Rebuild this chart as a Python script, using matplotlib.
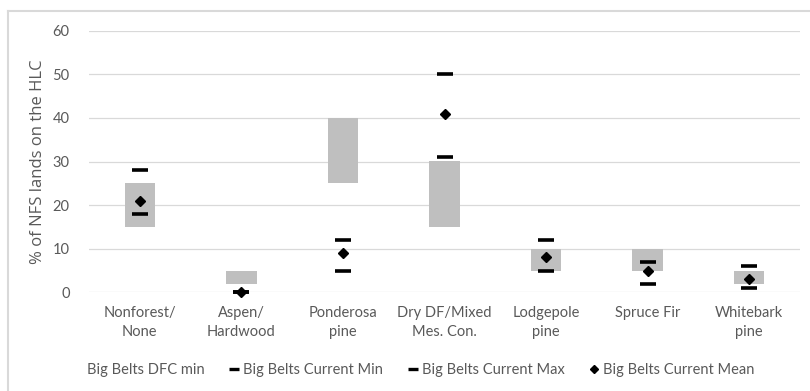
import numpy as np
import matplotlib.pyplot as plt
from matplotlib.patches import Patch, Rectangle
from matplotlib.lines import Line2D

categories = ["Nonforest/\nNone", "Aspen/\nHardwood", "Ponderosa\npine", "Dry DF/Mixed\nMes. Con.",
              "Lodgepole\npine", "Spruce Fir", "Whitebark\npine"]
dfc_min = [15, 2, 25, 15, 5, 5, 2]
dfc_max = [25, 5, 40, 30, 10, 10, 5]
current_min = [18, 0, 5, 31, 5, 2, 1]
current_max = [28, 0, 12, 50, 12, 7, 6]
current_mean = [21, 0, 9, 41, 8, 5, 3]

txt = "#595959"
plt.rcParams['font.family'] = ['Lato', 'DejaVu Sans']

fig = plt.figure(figsize=(8.1, 3.91), dpi=100)
ax = fig.add_axes([89 / 810, 1 - 292.3 / 391, 711 / 810, (292.3 - 30.7) / 391])

x = np.arange(len(categories))
heights = np.array(dfc_max) - np.array(dfc_min)
ax.bar(x, dfc_min, width=0.3, color="none")
ax.bar(x, heights, bottom=dfc_min, width=0.3, color="#bfbfbf", zorder=2)
ax.plot(x, current_min, linestyle="none", marker="_", markersize=12, mew=2.6, color="black", zorder=3, clip_on=False)
ax.plot(x, current_max, linestyle="none", marker="_", markersize=12, mew=2.6, color="black", zorder=3, clip_on=False)
ax.plot(x, current_mean, linestyle="none", marker="D", markersize=5.5, color="black", zorder=4, clip_on=False)

ax.set_xlim(-0.5, len(categories) - 0.5)
ax.set_ylim(0, 60)
ax.set_yticks(range(0, 61, 10))
ax.set_xticks(x)
ax.set_xticklabels(categories, linespacing=1.45)
ax.tick_params(length=0, labelcolor=txt, labelsize=10.5)
ax.tick_params(axis="x", pad=10)
ax.tick_params(axis="y", pad=14)
ax.grid(axis="y", color="#d9d9d9", linewidth=0.9)
ax.set_axisbelow(True)
for s in ax.spines.values():
    s.set_visible(False)
ax.set_ylabel("% of NFS lands on the HLC", color=txt, fontsize=12, family=['Open Sans', 'DejaVu Sans'])
ax.yaxis.set_label_coords(-0.06, 0.5)

handles = [Patch(facecolor="none", edgecolor="none"),
           Line2D([], [], linestyle="none", marker="_", markersize=7, mew=2.4, color="black"),
           Line2D([], [], linestyle="none", marker="_", markersize=7, mew=2.4, color="black"),
           Line2D([], [], linestyle="none", marker="D", markersize=4.5, color="black")]
labels = ["Big Belts DFC min", "Big Belts Current Min", "Big Belts Current Max", "Big Belts Current Mean"]
leg = fig.legend(handles, labels, loc="center", bbox_to_anchor=(414 / 810, 1 - 370 / 391), ncol=4,
                 frameon=False, handlelength=0.6, handletextpad=0.3, columnspacing=1.75, fontsize=10.5)
for t in leg.get_texts():
    t.set_color(txt)

# chart frame, cut off at the right and bottom
fig.add_artist(Line2D([8 / 810, 1], [1 - 11 / 391] * 2, transform=fig.transFigure, color="#d9d9d9", lw=1.5))
fig.add_artist(Line2D([8 / 810] * 2, [0, 1 - 11 / 391], transform=fig.transFigure, color="#d9d9d9", lw=1.5))

fig.savefig("out.png", dpi=100)
